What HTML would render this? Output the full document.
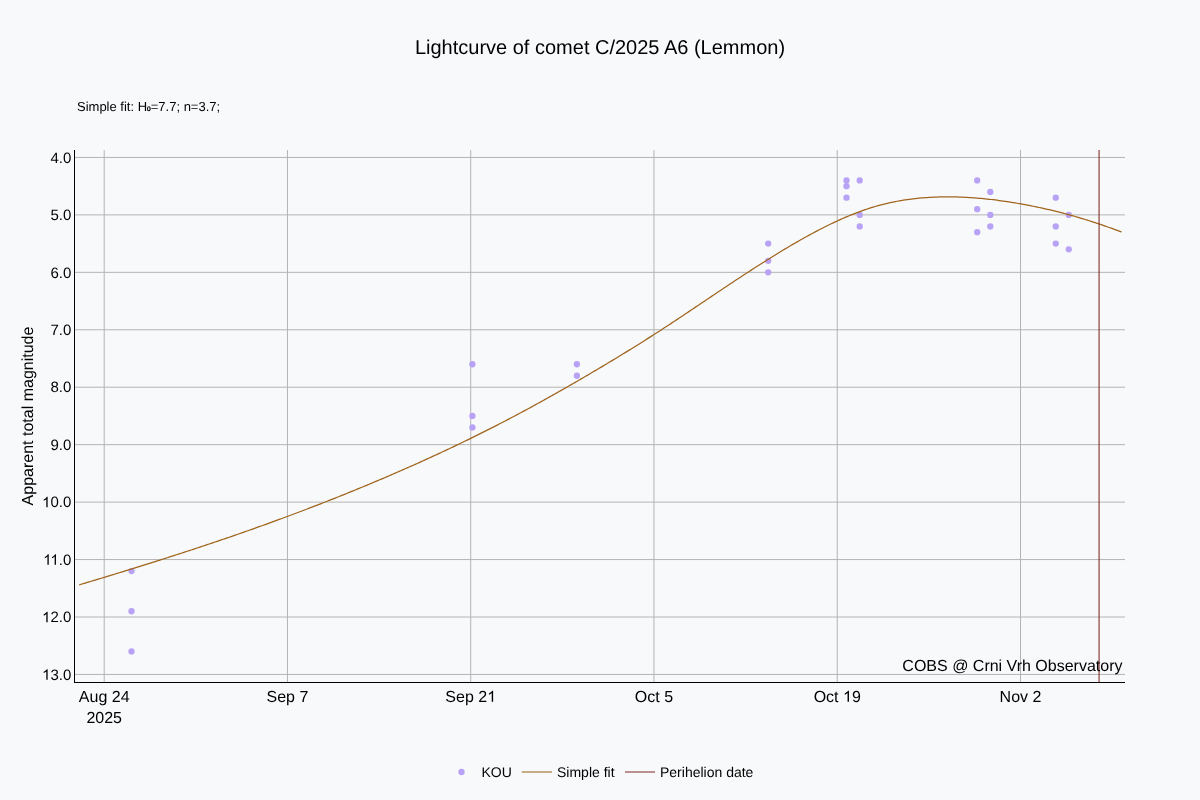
<!DOCTYPE html>
<html><head><meta charset="utf-8"><style>
html,body{margin:0;padding:0;background:#f8f9fa;}
svg{display:block;will-change:transform;}
text{font-family:"Liberation Sans",sans-serif;fill:#000;text-rendering:geometricPrecision;}
</style></head><body>
<svg width="1200" height="800" viewBox="0 0 1200 800">
<rect x="0" y="0" width="1200" height="800" fill="#f8f9fa"/>
<line x1="104.20" y1="150" x2="104.20" y2="682" stroke="#b4b4b4" stroke-width="1"/>
<line x1="287.46" y1="150" x2="287.46" y2="682" stroke="#b4b4b4" stroke-width="1"/>
<line x1="470.72" y1="150" x2="470.72" y2="682" stroke="#b4b4b4" stroke-width="1"/>
<line x1="653.98" y1="150" x2="653.98" y2="682" stroke="#b4b4b4" stroke-width="1"/>
<line x1="837.24" y1="150" x2="837.24" y2="682" stroke="#b4b4b4" stroke-width="1"/>
<line x1="1020.50" y1="150" x2="1020.50" y2="682" stroke="#b4b4b4" stroke-width="1"/>
<line x1="74" y1="157.45" x2="1125" y2="157.45" stroke="#b4b4b4" stroke-width="1"/>
<line x1="74" y1="214.89" x2="1125" y2="214.89" stroke="#b4b4b4" stroke-width="1"/>
<line x1="74" y1="272.34" x2="1125" y2="272.34" stroke="#b4b4b4" stroke-width="1"/>
<line x1="74" y1="329.78" x2="1125" y2="329.78" stroke="#b4b4b4" stroke-width="1"/>
<line x1="74" y1="387.23" x2="1125" y2="387.23" stroke="#b4b4b4" stroke-width="1"/>
<line x1="74" y1="444.67" x2="1125" y2="444.67" stroke="#b4b4b4" stroke-width="1"/>
<line x1="74" y1="502.11" x2="1125" y2="502.11" stroke="#b4b4b4" stroke-width="1"/>
<line x1="74" y1="559.56" x2="1125" y2="559.56" stroke="#b4b4b4" stroke-width="1"/>
<line x1="74" y1="617.00" x2="1125" y2="617.00" stroke="#b4b4b4" stroke-width="1"/>
<line x1="74" y1="674.45" x2="1125" y2="674.45" stroke="#b4b4b4" stroke-width="1"/>
<line x1="74.5" y1="150" x2="74.5" y2="683" stroke="#000" stroke-width="1"/>
<line x1="74" y1="682.5" x2="1125" y2="682.5" stroke="#000" stroke-width="1"/>
<circle cx="131.5" cy="571.05" r="3.15" fill="#b8a2f5"/>
<circle cx="131.5" cy="611.26" r="3.15" fill="#b8a2f5"/>
<circle cx="131.5" cy="651.47" r="3.15" fill="#b8a2f5"/>
<circle cx="472.4" cy="364.25" r="3.15" fill="#b8a2f5"/>
<circle cx="472.4" cy="415.95" r="3.15" fill="#b8a2f5"/>
<circle cx="472.4" cy="427.44" r="3.15" fill="#b8a2f5"/>
<circle cx="576.9" cy="364.25" r="3.15" fill="#b8a2f5"/>
<circle cx="576.9" cy="375.74" r="3.15" fill="#b8a2f5"/>
<circle cx="768.2" cy="243.62" r="3.15" fill="#b8a2f5"/>
<circle cx="768.2" cy="260.85" r="3.15" fill="#b8a2f5"/>
<circle cx="768.2" cy="272.34" r="3.15" fill="#b8a2f5"/>
<circle cx="846.5" cy="180.43" r="3.15" fill="#b8a2f5"/>
<circle cx="846.5" cy="186.17" r="3.15" fill="#b8a2f5"/>
<circle cx="846.5" cy="197.66" r="3.15" fill="#b8a2f5"/>
<circle cx="859.7" cy="180.43" r="3.15" fill="#b8a2f5"/>
<circle cx="859.7" cy="214.89" r="3.15" fill="#b8a2f5"/>
<circle cx="859.7" cy="226.38" r="3.15" fill="#b8a2f5"/>
<circle cx="977.2" cy="180.43" r="3.15" fill="#b8a2f5"/>
<circle cx="977.2" cy="209.15" r="3.15" fill="#b8a2f5"/>
<circle cx="977.2" cy="232.13" r="3.15" fill="#b8a2f5"/>
<circle cx="990.3" cy="191.92" r="3.15" fill="#b8a2f5"/>
<circle cx="990.3" cy="214.89" r="3.15" fill="#b8a2f5"/>
<circle cx="990.3" cy="226.38" r="3.15" fill="#b8a2f5"/>
<circle cx="1055.75" cy="197.66" r="3.15" fill="#b8a2f5"/>
<circle cx="1055.75" cy="226.38" r="3.15" fill="#b8a2f5"/>
<circle cx="1055.75" cy="243.62" r="3.15" fill="#b8a2f5"/>
<circle cx="1068.75" cy="214.89" r="3.15" fill="#b8a2f5"/>
<circle cx="1068.75" cy="249.36" r="3.15" fill="#b8a2f5"/>
<path d="M79.2,584.87 L81.2,584.27 L83.2,583.67 L85.2,583.07 L87.2,582.47 L89.2,581.87 L91.2,581.26 L93.2,580.66 L95.2,580.06 L97.2,579.45 L99.2,578.85 L101.2,578.24 L103.2,577.64 L105.2,577.03 L107.2,576.42 L109.2,575.81 L111.2,575.20 L113.2,574.59 L115.2,573.98 L117.2,573.37 L119.2,572.76 L121.2,572.14 L123.2,571.53 L125.2,570.91 L127.2,570.29 L129.2,569.68 L131.2,569.06 L133.2,568.44 L135.2,567.82 L137.2,567.20 L139.2,566.58 L141.2,565.95 L143.2,565.33 L145.2,564.70 L147.2,564.07 L149.2,563.45 L151.2,562.82 L153.2,562.19 L155.2,561.56 L157.2,560.92 L159.2,560.29 L161.2,559.66 L163.2,559.02 L165.2,558.38 L167.2,557.74 L169.2,557.10 L171.2,556.46 L173.2,555.82 L175.2,555.18 L177.2,554.53 L179.2,553.88 L181.2,553.24 L183.2,552.59 L185.2,551.94 L187.2,551.28 L189.2,550.63 L191.2,549.98 L193.2,549.32 L195.2,548.66 L197.2,548.00 L199.2,547.34 L201.2,546.68 L203.2,546.01 L205.2,545.35 L207.2,544.68 L209.2,544.01 L211.2,543.34 L213.2,542.67 L215.2,541.99 L217.2,541.32 L219.2,540.64 L221.2,539.96 L223.2,539.28 L225.2,538.60 L227.2,537.91 L229.2,537.23 L231.2,536.54 L233.2,535.85 L235.2,535.16 L237.2,534.47 L239.2,533.77 L241.2,533.07 L243.2,532.37 L245.2,531.67 L247.2,530.97 L249.2,530.27 L251.2,529.56 L253.2,528.85 L255.2,528.14 L257.2,527.43 L259.2,526.71 L261.2,526.00 L263.2,525.28 L265.2,524.56 L267.2,523.84 L269.2,523.11 L271.2,522.39 L273.2,521.66 L275.2,520.93 L277.2,520.20 L279.2,519.46 L281.2,518.73 L283.2,517.99 L285.2,517.25 L287.2,516.51 L289.2,515.76 L291.2,515.02 L293.2,514.27 L295.2,513.52 L297.2,512.76 L299.2,512.01 L301.2,511.25 L303.2,510.49 L305.2,509.73 L307.2,508.97 L309.2,508.20 L311.2,507.44 L313.2,506.67 L315.2,505.89 L317.2,505.12 L319.2,504.34 L321.2,503.57 L323.2,502.79 L325.2,502.00 L327.2,501.22 L329.2,500.43 L331.2,499.64 L333.2,498.85 L335.2,498.06 L337.2,497.26 L339.2,496.46 L341.2,495.66 L343.2,494.86 L345.2,494.05 L347.2,493.25 L349.2,492.44 L351.2,491.63 L353.2,490.81 L355.2,490.00 L357.2,489.18 L359.2,488.36 L361.2,487.53 L363.2,486.71 L365.2,485.88 L367.2,485.05 L369.2,484.21 L371.2,483.38 L373.2,482.54 L375.2,481.70 L377.2,480.86 L379.2,480.01 L381.2,479.17 L383.2,478.31 L385.2,477.46 L387.2,476.61 L389.2,475.75 L391.2,474.89 L393.2,474.02 L395.2,473.16 L397.2,472.29 L399.2,471.42 L401.2,470.55 L403.2,469.67 L405.2,468.79 L407.2,467.91 L409.2,467.02 L411.2,466.13 L413.2,465.24 L415.2,464.35 L417.2,463.45 L419.2,462.56 L421.2,461.65 L423.2,460.75 L425.2,459.84 L427.2,458.93 L429.2,458.02 L431.2,457.10 L433.2,456.18 L435.2,455.26 L437.2,454.33 L439.2,453.40 L441.2,452.47 L443.2,451.54 L445.2,450.60 L447.2,449.66 L449.2,448.71 L451.2,447.77 L453.2,446.82 L455.2,445.86 L457.2,444.91 L459.2,443.95 L461.2,442.98 L463.2,442.02 L465.2,441.05 L467.2,440.07 L469.2,439.10 L471.2,438.12 L473.2,437.14 L475.2,436.15 L477.2,435.16 L479.2,434.17 L481.2,433.17 L483.2,432.17 L485.2,431.17 L487.2,430.16 L489.2,429.15 L491.2,428.13 L493.2,427.12 L495.2,426.10 L497.2,425.07 L499.2,424.04 L501.2,423.01 L503.2,421.98 L505.2,420.94 L507.2,419.89 L509.2,418.85 L511.2,417.80 L513.2,416.74 L515.2,415.69 L517.2,414.63 L519.2,413.56 L521.2,412.49 L523.2,411.42 L525.2,410.34 L527.2,409.26 L529.2,408.18 L531.2,407.09 L533.2,406.00 L535.2,404.91 L537.2,403.81 L539.2,402.71 L541.2,401.61 L543.2,400.50 L545.2,399.39 L547.2,398.27 L549.2,397.16 L551.2,396.04 L553.2,394.91 L555.2,393.79 L557.2,392.66 L559.2,391.52 L561.2,390.39 L563.2,389.25 L565.2,388.11 L567.2,386.96 L569.2,385.81 L571.2,384.66 L573.2,383.51 L575.2,382.35 L577.2,381.19 L579.2,380.03 L581.2,378.87 L583.2,377.70 L585.2,376.53 L587.2,375.36 L589.2,374.19 L591.2,373.01 L593.2,371.83 L595.2,370.65 L597.2,369.46 L599.2,368.28 L601.2,367.09 L603.2,365.90 L605.2,364.70 L607.2,363.51 L609.2,362.31 L611.2,361.10 L613.2,359.90 L615.2,358.69 L617.2,357.48 L619.2,356.27 L621.2,355.05 L623.2,353.83 L625.2,352.60 L627.2,351.38 L629.2,350.15 L631.2,348.91 L633.2,347.67 L635.2,346.43 L637.2,345.19 L639.2,343.94 L641.2,342.68 L643.2,341.42 L645.2,340.16 L647.2,338.89 L649.2,337.62 L651.2,336.35 L653.2,335.07 L655.2,333.78 L657.2,332.49 L659.2,331.20 L661.2,329.90 L663.2,328.60 L665.2,327.29 L667.2,325.99 L669.2,324.67 L671.2,323.36 L673.2,322.04 L675.2,320.71 L677.2,319.39 L679.2,318.06 L681.2,316.73 L683.2,315.40 L685.2,314.07 L687.2,312.73 L689.2,311.39 L691.2,310.05 L693.2,308.71 L695.2,307.37 L697.2,306.03 L699.2,304.69 L701.2,303.34 L703.2,302.00 L705.2,300.66 L707.2,299.31 L709.2,297.97 L711.2,296.63 L713.2,295.28 L715.2,293.94 L717.2,292.60 L719.2,291.26 L721.2,289.92 L723.2,288.59 L725.2,287.25 L727.2,285.92 L729.2,284.58 L731.2,283.26 L733.2,281.93 L735.2,280.60 L737.2,279.28 L739.2,277.96 L741.2,276.65 L743.2,275.34 L745.2,274.03 L747.2,272.72 L749.2,271.42 L751.2,270.13 L753.2,268.83 L755.2,267.55 L757.2,266.26 L759.2,264.98 L761.2,263.71 L763.2,262.44 L765.2,261.18 L767.2,259.92 L769.2,258.67 L771.2,257.42 L773.2,256.18 L775.2,254.95 L777.2,253.72 L779.2,252.50 L781.2,251.29 L783.2,250.08 L785.2,248.88 L787.2,247.69 L789.2,246.50 L791.2,245.33 L793.2,244.16 L795.2,243.00 L797.2,241.84 L799.2,240.70 L801.2,239.56 L803.2,238.44 L805.2,237.32 L807.2,236.21 L809.2,235.12 L811.2,234.03 L813.2,232.95 L815.2,231.89 L817.2,230.83 L819.2,229.79 L821.2,228.76 L823.2,227.74 L825.2,226.73 L827.2,225.74 L829.2,224.76 L831.2,223.79 L833.2,222.84 L835.2,221.90 L837.2,220.97 L839.2,220.06 L841.2,219.16 L843.2,218.28 L845.2,217.41 L847.2,216.56 L849.2,215.73 L851.2,214.91 L853.2,214.11 L855.2,213.33 L857.2,212.56 L859.2,211.81 L861.2,211.08 L863.2,210.37 L865.2,209.68 L867.2,209.00 L869.2,208.34 L871.2,207.71 L873.2,207.09 L875.2,206.49 L877.2,205.92 L879.2,205.36 L881.2,204.83 L883.2,204.31 L885.2,203.82 L887.2,203.34 L889.2,202.88 L891.2,202.45 L893.2,202.03 L895.2,201.63 L897.2,201.25 L899.2,200.89 L901.2,200.54 L903.2,200.21 L905.2,199.90 L907.2,199.61 L909.2,199.33 L911.2,199.07 L913.2,198.82 L915.2,198.59 L917.2,198.37 L919.2,198.17 L921.2,197.99 L923.2,197.82 L925.2,197.66 L927.2,197.52 L929.2,197.39 L931.2,197.27 L933.2,197.17 L935.2,197.08 L937.2,197.01 L939.2,196.95 L941.2,196.90 L943.2,196.86 L945.2,196.84 L947.2,196.83 L949.2,196.84 L951.2,196.85 L953.2,196.88 L955.2,196.92 L957.2,196.97 L959.2,197.03 L961.2,197.11 L963.2,197.19 L965.2,197.29 L967.2,197.40 L969.2,197.52 L971.2,197.65 L973.2,197.79 L975.2,197.94 L977.2,198.10 L979.2,198.27 L981.2,198.45 L983.2,198.64 L985.2,198.85 L987.2,199.06 L989.2,199.28 L991.2,199.50 L993.2,199.74 L995.2,199.99 L997.2,200.24 L999.2,200.51 L1001.2,200.78 L1003.2,201.06 L1005.2,201.35 L1007.2,201.65 L1009.2,201.95 L1011.2,202.27 L1013.2,202.59 L1015.2,202.92 L1017.2,203.25 L1019.2,203.60 L1021.2,203.95 L1023.2,204.31 L1025.2,204.68 L1027.2,205.06 L1029.2,205.44 L1031.2,205.83 L1033.2,206.24 L1035.2,206.64 L1037.2,207.06 L1039.2,207.49 L1041.2,207.92 L1043.2,208.36 L1045.2,208.81 L1047.2,209.27 L1049.2,209.73 L1051.2,210.21 L1053.2,210.69 L1055.2,211.18 L1057.2,211.68 L1059.2,212.18 L1061.2,212.70 L1063.2,213.22 L1065.2,213.75 L1067.2,214.29 L1069.2,214.84 L1071.2,215.39 L1073.2,215.95 L1075.2,216.52 L1077.2,217.10 L1079.2,217.69 L1081.2,218.29 L1083.2,218.89 L1085.2,219.50 L1087.2,220.12 L1089.2,220.75 L1091.2,221.39 L1093.2,222.03 L1095.2,222.68 L1097.2,223.34 L1099.2,224.01 L1101.2,224.69 L1103.2,225.38 L1105.2,226.07 L1107.2,226.77 L1109.2,227.48 L1111.2,228.20 L1113.2,228.93 L1115.2,229.66 L1117.2,230.41 L1119.2,231.16 L1121.2,231.92 L1121.5,232.03" fill="none" stroke="#a0641d" stroke-width="1.25"/>
<line x1="1099.1" y1="150" x2="1099.1" y2="682" stroke="rgb(120,30,25)" stroke-opacity="0.6" stroke-width="1.7"/>
<text x="71.25" y="162.65" text-anchor="end" font-size="15">4.0</text>
<text x="71.25" y="220.09" text-anchor="end" font-size="15">5.0</text>
<text x="71.25" y="277.54" text-anchor="end" font-size="15">6.0</text>
<text x="71.25" y="334.98" text-anchor="end" font-size="15">7.0</text>
<text x="71.25" y="392.43" text-anchor="end" font-size="15">8.0</text>
<text x="71.25" y="449.87" text-anchor="end" font-size="15">9.0</text>
<path d="M763,0L583,0L583,-1147Q518,-1085 412,-1023Q307,-961 223,-930L223,-1104Q374,-1175 487,-1276Q600,-1377 647,-1472L763,-1472Z" transform="translate(42.05,507.31) scale(0.007324,0.007115)" fill="#000"/>
<text x="50.38" y="507.31" font-size="15">0.0</text>
<path d="M763,0L583,0L583,-1147Q518,-1085 412,-1023Q307,-961 223,-930L223,-1104Q374,-1175 487,-1276Q600,-1377 647,-1472L763,-1472Z" transform="translate(43.16,564.76) scale(0.007324,0.007115)" fill="#000"/>
<path d="M763,0L583,0L583,-1147Q518,-1085 412,-1023Q307,-961 223,-930L223,-1104Q374,-1175 487,-1276Q600,-1377 647,-1472L763,-1472Z" transform="translate(50.38,564.76) scale(0.007324,0.007115)" fill="#000"/>
<text x="58.72" y="564.76" font-size="15">.0</text>
<path d="M763,0L583,0L583,-1147Q518,-1085 412,-1023Q307,-961 223,-930L223,-1104Q374,-1175 487,-1276Q600,-1377 647,-1472L763,-1472Z" transform="translate(42.05,622.20) scale(0.007324,0.007115)" fill="#000"/>
<text x="50.38" y="622.20" font-size="15">2.0</text>
<path d="M763,0L583,0L583,-1147Q518,-1085 412,-1023Q307,-961 223,-930L223,-1104Q374,-1175 487,-1276Q600,-1377 647,-1472L763,-1472Z" transform="translate(42.05,679.65) scale(0.007324,0.007115)" fill="#000"/>
<text x="50.38" y="679.65" font-size="15">3.0</text>
<text x="104.20" y="701.80" text-anchor="middle" font-size="16">Aug 24</text>
<text x="287.46" y="701.80" text-anchor="middle" font-size="16">Sep 7</text>
<path d="M763,0L583,0L583,-1147Q518,-1085 412,-1023Q307,-961 223,-930L223,-1104Q374,-1175 487,-1276Q600,-1377 647,-1472L763,-1472Z" transform="translate(487.17,701.80) scale(0.007812,0.007590)" fill="#000"/>
<text x="445.36" y="701.80" font-size="16">Sep 2</text>
<text x="653.98" y="701.80" text-anchor="middle" font-size="16">Oct 5</text>
<path d="M763,0L583,0L583,-1147Q518,-1085 412,-1023Q307,-961 223,-930L223,-1104Q374,-1175 487,-1276Q600,-1377 647,-1472L763,-1472Z" transform="translate(843.00,701.80) scale(0.007812,0.007590)" fill="#000"/>
<text x="813.67" y="701.80" font-size="16">Oct </text>
<text x="851.90" y="701.80" font-size="16">9</text>
<text x="1020.50" y="701.80" text-anchor="middle" font-size="16">Nov 2</text>
<text x="104.20" y="722.80" text-anchor="middle" font-size="16">2025</text>
<text x="0.00" y="0.00" text-anchor="middle" font-size="16" transform="translate(33,416) rotate(-90)">Apparent total magnitude</text>
<text x="600.00" y="54.00" text-anchor="middle" font-size="20">Lightcurve of comet C/2025 A6 (Lemmon)</text>
<text x="77.00" y="110.70" text-anchor="start" font-size="13">Simple fit: H<tspan font-size="6.6" stroke="#000" stroke-width="0.4">0</tspan>=7.7; n=3.7;</text>
<text x="1122.50" y="670.80" text-anchor="end" font-size="16">COBS @ Crni Vrh Observatory</text>
<text x="481.50" y="776.70" text-anchor="start" font-size="14">KOU</text>
<text x="557.00" y="776.70" text-anchor="start" font-size="14">Simple fit</text>
<text x="660.00" y="776.70" text-anchor="start" font-size="14">Perihelion date</text>
<circle cx="461.5" cy="772" r="3.15" fill="#b8a2f5"/>
<line x1="521.8" y1="772" x2="552" y2="772" stroke="#c8ac86" stroke-width="2"/>
<line x1="625" y1="772" x2="655" y2="772" stroke="#bc908c" stroke-width="2"/>
</svg>
</body></html>
